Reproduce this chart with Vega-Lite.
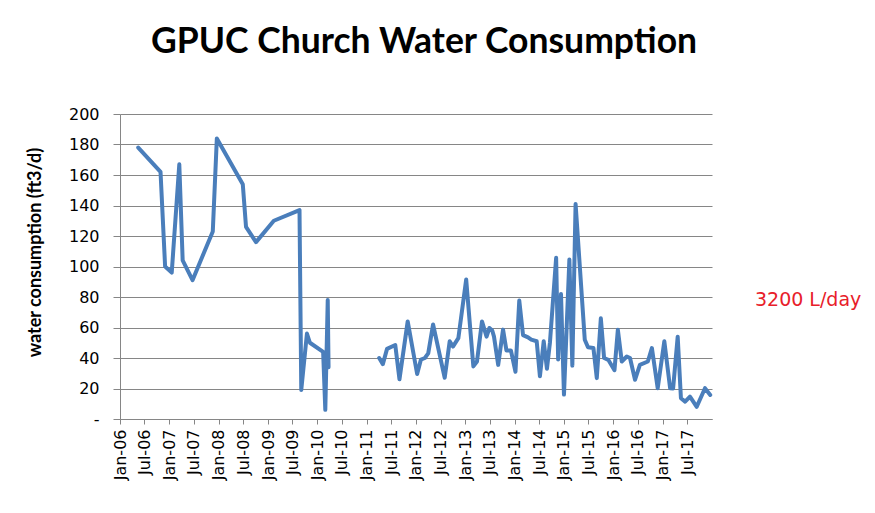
{
  "$schema": "https://vega.github.io/schema/vega-lite/v6.json",
  "width": 592,
  "height": 305,
  "autosize": "none",
  "padding": {"left": 120, "top": 114, "right": 163, "bottom": 94},
  "background": "white",
  "title": {
    "text": "GPUC Church Water Consumption",
    "font": "Lato",
    "fontSize": 35.5,
    "fontWeight": "bold",
    "color": "#000000",
    "anchor": "middle",
    "frame": "group",
    "offset": 46,
    "dx": 8
  },
  "config": {
    "view": {"stroke": null},
    "axis": {"labelFont": "DejaVu Sans", "labelColor": "#000000", "titleColor": "#000000"}
  },
  "datasets": {
    "consumption": [
      {"date": "2006-05-16", "value": 178, "segment": "A"},
      {"date": "2006-10-28", "value": 162, "segment": "A"},
      {"date": "2006-12-01", "value": 100, "segment": "A"},
      {"date": "2007-01-19", "value": 96, "segment": "A"},
      {"date": "2007-03-16", "value": 167, "segment": "A"},
      {"date": "2007-04-10", "value": 104, "segment": "A"},
      {"date": "2007-06-22", "value": 91, "segment": "A"},
      {"date": "2007-11-19", "value": 123, "segment": "A"},
      {"date": "2007-12-19", "value": 184, "segment": "A"},
      {"date": "2008-06-28", "value": 154, "segment": "A"},
      {"date": "2008-07-22", "value": 126, "segment": "A"},
      {"date": "2008-10-04", "value": 116, "segment": "A"},
      {"date": "2009-02-13", "value": 130, "segment": "A"},
      {"date": "2009-08-22", "value": 137, "segment": "A"},
      {"date": "2009-09-04", "value": 19, "segment": "A"},
      {"date": "2009-10-16", "value": 56, "segment": "A"},
      {"date": "2009-11-07", "value": 50, "segment": "A"},
      {"date": "2010-02-13", "value": 44, "segment": "A"},
      {"date": "2010-03-01", "value": 6, "segment": "A"},
      {"date": "2010-03-19", "value": 78, "segment": "A"},
      {"date": "2010-03-25", "value": 34, "segment": "A"},
      {"date": "2011-04-04", "value": 40, "segment": "B"},
      {"date": "2011-05-01", "value": 36, "segment": "B"},
      {"date": "2011-06-01", "value": 46, "segment": "B"},
      {"date": "2011-08-01", "value": 48.5, "segment": "B"},
      {"date": "2011-09-01", "value": 26, "segment": "B"},
      {"date": "2011-11-01", "value": 64, "segment": "B"},
      {"date": "2012-01-10", "value": 29.5, "segment": "B"},
      {"date": "2012-02-07", "value": 39, "segment": "B"},
      {"date": "2012-03-07", "value": 40, "segment": "B"},
      {"date": "2012-04-01", "value": 43, "segment": "B"},
      {"date": "2012-05-07", "value": 62, "segment": "B"},
      {"date": "2012-08-01", "value": 27, "segment": "B"},
      {"date": "2012-09-07", "value": 51, "segment": "B"},
      {"date": "2012-10-01", "value": 47.5, "segment": "B"},
      {"date": "2012-11-10", "value": 53, "segment": "B"},
      {"date": "2013-01-07", "value": 91.5, "segment": "B"},
      {"date": "2013-03-01", "value": 34.5, "segment": "B"},
      {"date": "2013-03-28", "value": 37.7, "segment": "B"},
      {"date": "2013-05-04", "value": 64, "segment": "B"},
      {"date": "2013-06-07", "value": 54, "segment": "B"},
      {"date": "2013-06-28", "value": 59.7, "segment": "B"},
      {"date": "2013-07-19", "value": 58, "segment": "B"},
      {"date": "2013-08-01", "value": 54, "segment": "B"},
      {"date": "2013-09-01", "value": 35.5, "segment": "B"},
      {"date": "2013-10-07", "value": 58.6, "segment": "B"},
      {"date": "2013-11-01", "value": 45, "segment": "B"},
      {"date": "2013-12-04", "value": 45, "segment": "B"},
      {"date": "2014-01-07", "value": 31, "segment": "B"},
      {"date": "2014-02-04", "value": 77.7, "segment": "B"},
      {"date": "2014-03-04", "value": 55, "segment": "B"},
      {"date": "2014-04-10", "value": 53.5, "segment": "B"},
      {"date": "2014-05-04", "value": 52, "segment": "B"},
      {"date": "2014-06-13", "value": 51, "segment": "B"},
      {"date": "2014-07-07", "value": 28, "segment": "B"},
      {"date": "2014-08-04", "value": 51, "segment": "B"},
      {"date": "2014-08-28", "value": 33, "segment": "B"},
      {"date": "2014-09-19", "value": 50, "segment": "B"},
      {"date": "2014-11-04", "value": 105.7, "segment": "B"},
      {"date": "2014-11-19", "value": 39, "segment": "B"},
      {"date": "2014-12-10", "value": 82, "segment": "B"},
      {"date": "2015-01-01", "value": 16, "segment": "B"},
      {"date": "2015-02-10", "value": 104.6, "segment": "B"},
      {"date": "2015-03-04", "value": 35, "segment": "B"},
      {"date": "2015-03-28", "value": 141, "segment": "B"},
      {"date": "2015-06-04", "value": 52, "segment": "B"},
      {"date": "2015-06-28", "value": 47, "segment": "B"},
      {"date": "2015-08-07", "value": 46.5, "segment": "B"},
      {"date": "2015-09-01", "value": 26.8, "segment": "B"},
      {"date": "2015-10-01", "value": 66, "segment": "B"},
      {"date": "2015-10-25", "value": 40, "segment": "B"},
      {"date": "2015-11-25", "value": 38.8, "segment": "B"},
      {"date": "2016-01-10", "value": 32, "segment": "B"},
      {"date": "2016-02-04", "value": 58.6, "segment": "B"},
      {"date": "2016-03-04", "value": 37.7, "segment": "B"},
      {"date": "2016-04-10", "value": 41, "segment": "B"},
      {"date": "2016-05-04", "value": 40, "segment": "B"},
      {"date": "2016-06-10", "value": 25.7, "segment": "B"},
      {"date": "2016-07-16", "value": 35.5, "segment": "B"},
      {"date": "2016-09-13", "value": 37.7, "segment": "B"},
      {"date": "2016-10-13", "value": 46.5, "segment": "B"},
      {"date": "2016-11-25", "value": 20.2, "segment": "B"},
      {"date": "2017-01-13", "value": 51, "segment": "B"},
      {"date": "2017-02-25", "value": 20.2, "segment": "B"},
      {"date": "2017-03-19", "value": 20, "segment": "B"},
      {"date": "2017-04-22", "value": 54, "segment": "B"},
      {"date": "2017-05-16", "value": 13.6, "segment": "B"},
      {"date": "2017-06-16", "value": 11.4, "segment": "B"},
      {"date": "2017-07-22", "value": 14.7, "segment": "B"},
      {"date": "2017-09-10", "value": 8, "segment": "B"},
      {"date": "2017-11-10", "value": 20.2, "segment": "B"},
      {"date": "2017-12-19", "value": 15.8, "segment": "B"}
    ],
    "note": [
      {"date": "2018-11-15", "value": 78, "label": "3200 L/day"}
    ]
  },
  "encoding": {
    "x": {
      "field": "date",
      "type": "temporal",
      "scale": {"domain": [{"year": 2006, "month": 1, "date": 1}, {"year": 2018, "month": 1, "date": 1}]},
      "axis": {
        "title": null,
        "format": "%b-%y",
        "labelAngle": -90,
        "labelFontSize": 16,
        "labelPadding": 5,
        "tickSize": 5,
        "tickColor": "#868686",
        "domainColor": "#868686",
        "grid": false,
        "labelOverlap": false,
        "labelFlush": false,
        "values": [
          {"year": 2006, "month": 1, "date": 1}, {"year": 2006, "month": 7, "date": 1},
          {"year": 2007, "month": 1, "date": 1}, {"year": 2007, "month": 7, "date": 1},
          {"year": 2008, "month": 1, "date": 1}, {"year": 2008, "month": 7, "date": 1},
          {"year": 2009, "month": 1, "date": 1}, {"year": 2009, "month": 7, "date": 1},
          {"year": 2010, "month": 1, "date": 1}, {"year": 2010, "month": 7, "date": 1},
          {"year": 2011, "month": 1, "date": 1}, {"year": 2011, "month": 7, "date": 1},
          {"year": 2012, "month": 1, "date": 1}, {"year": 2012, "month": 7, "date": 1},
          {"year": 2013, "month": 1, "date": 1}, {"year": 2013, "month": 7, "date": 1},
          {"year": 2014, "month": 1, "date": 1}, {"year": 2014, "month": 7, "date": 1},
          {"year": 2015, "month": 1, "date": 1}, {"year": 2015, "month": 7, "date": 1},
          {"year": 2016, "month": 1, "date": 1}, {"year": 2016, "month": 7, "date": 1},
          {"year": 2017, "month": 1, "date": 1}, {"year": 2017, "month": 7, "date": 1}
        ]
      }
    },
    "y": {
      "field": "value",
      "type": "quantitative",
      "scale": {"domain": [0, 200], "nice": false},
      "axis": {
        "title": "water consumption (ft3/d)",
        "titleFont": "Lato",
        "titleFontSize": 18,
        "titleFontWeight": "bold",
        "titlePadding": 24,
        "titleY": 138,
        "values": [0, 20, 40, 60, 80, 100, 120, 140, 160, 180, 200],
        "labelOverlap": false,
        "labelFlush": false,
        "labelExpr": "datum.value == 0 ? '-' : datum.label",
        "labelFontSize": 16,
        "labelPadding": 14,
        "tickSize": 7,
        "tickColor": "#868686",
        "domainColor": "#868686",
        "grid": true,
        "gridColor": "#868686",
        "gridWidth": 1
      }
    }
  },
  "layer": [
    {
      "data": {"name": "consumption", "format": {"parse": {"date": "date:'%Y-%m-%d'"}}},
      "mark": {"type": "line", "color": "#4a7ebb", "strokeWidth": 4, "strokeJoin": "round", "strokeCap": "round"},
      "encoding": {
        "detail": {"field": "segment", "type": "nominal"}
      }
    },
    {
      "data": {"name": "note", "format": {"parse": {"date": "date:'%Y-%m-%d'"}}},
      "mark": {"type": "text", "align": "left", "baseline": "middle", "font": "DejaVu Sans", "fontSize": 19, "color": "#e8202a"},
      "encoding": {
        "text": {"field": "label", "type": "nominal"}
      }
    }
  ]
}
